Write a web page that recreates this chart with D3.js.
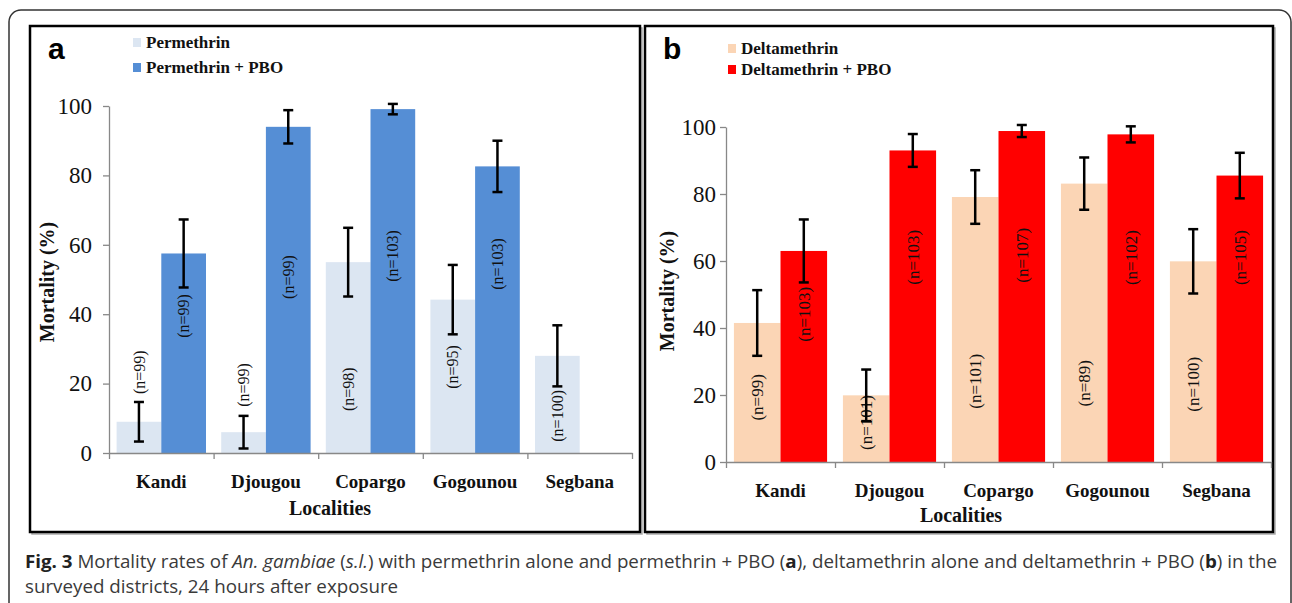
<!DOCTYPE html>
<html>
<head>
<meta charset="utf-8">
<script src="https://cdn.jsdelivr.net/npm/d3@7"></script>
<style>
  body { margin: 0; background: #fff; }
  svg { display: block; }
</style>
</head>
<body>
<script>
// values
const localities = ["Kandi", "Djougou", "Copargo", "Gogounou", "Segbana"];
const yTicks = [0, 20, 40, 60, 80, 100];

const permethrin = [9.0, 6.0, 55.0, 44.2, 28.0];
const permethrinErr = [5.7, 4.7, 9.9, 10.0, 8.8];
const permethrinN = ["(n=99)", "(n=99)", "(n=98)", "(n=95)", "(n=100)"];

const permethrinPBO = [57.5, 94.0, 99.1, 82.6, null];
const permethrinPBOErr = [9.8, 4.8, 1.5, 7.4, null];
const permethrinPBON = ["(n=99)", "(n=99)", "(n=103)", "(n=103)", null];

const deltamethrin = [41.5, 19.9, 79.1, 83.1, 59.9];
const deltamethrinErr = [9.8, 7.7, 8.0, 7.8, 9.6];
const deltamethrinN = ["(n=99)", "(n=101)", "(n=101)", "(n=89)", "(n=100)"];

const deltamethrinPBO = [63.0, 93.0, 98.8, 97.8, 85.5];
const deltamethrinPBOErr = [9.4, 4.9, 1.8, 2.4, 6.8];
const deltamethrinPBON = ["(n=103)", "(n=103)", "(n=107)", "(n=102)", "(n=105)"];

// where the (n=..) labels sit, in axis units (they were hand placed in the original)
const permLabelAt = [23.3, 19.6, 18.4, 24.8, 10.7];
const permPBOLabelAt = [39.5, 50.7, 56.8, 54.5, null];
const deltaLabelAt = [19.3, 11.8, 24.1, 23.5, 23.2];
const deltaPBOLabelAt = [44.1, 61.1, 61.7, 61.0, 61.0];

const SERIF = "'Liberation Serif', 'Times New Roman', serif";
const SANS = "'Liberation Sans', Arial, sans-serif";

const panels = [
  {
    letter: "a",
    series: [
      { name: "Permethrin", values: permethrin, err: permethrinErr, n: permethrinN, labelAt: permLabelAt, color: "#DCE6F2" },
      { name: "Permethrin + PBO", values: permethrinPBO, err: permethrinPBOErr, n: permethrinPBON, labelAt: permPBOLabelAt, color: "#558ED5" }
    ],
    frame: { x0: 30, y0: 26, x1: 640, y1: 532 },
    plot: { x0: 109, x1: 632, bottom: 453, top: 106 },
    letterAt: [48, 59],
    legend: { x: 133, y: [48, 73] },
    tickPad: 11, catY: 488, locX: 330, locY: 515, titleX: 54, titleY: 282, nSize: 16
  },
  {
    letter: "b",
    series: [
      { name: "Deltamethrin", values: deltamethrin, err: deltamethrinErr, n: deltamethrinN, labelAt: deltaLabelAt, color: "#FBD5B5" },
      { name: "Deltamethrin + PBO", values: deltamethrinPBO, err: deltamethrinPBOErr, n: deltamethrinPBON, labelAt: deltaPBOLabelAt, color: "#FF0000" }
    ],
    frame: { x0: 645, y0: 26, x1: 1273, y1: 532 },
    plot: { x0: 726, x1: 1271, bottom: 462, top: 127 },
    letterAt: [663, 59],
    legend: { x: 728, y: [54, 75] },
    tickPad: 4, catY: 497, locX: 961, locY: 522, titleX: 674, titleY: 291, nSize: 17
  }
];

const svg = d3.select("body").append("svg")
  .attr("width", 1292)
  .attr("height", 603);

// outer rounded box (runs off the bottom of the picture)
svg.append("rect")
  .attr("x", 9).attr("y", 10)
  .attr("width", 1282).attr("height", 700)
  .attr("rx", 12)
  .attr("fill", "none")
  .attr("stroke", "#333")
  .attr("stroke-width", 1.5);

panels.forEach(drawPanel);

function drawPanel(p) {
  const g = svg.append("g");
  const f = p.frame;

  // frame with a faint shadow
  g.append("rect")
    .attr("x", f.x0 + 2).attr("y", f.y0 + 2)
    .attr("width", f.x1 - f.x0).attr("height", f.y1 - f.y0)
    .attr("fill", "none").attr("stroke", "#aaa").attr("stroke-width", 1.5);
  g.append("rect")
    .attr("x", f.x0).attr("y", f.y0)
    .attr("width", f.x1 - f.x0).attr("height", f.y1 - f.y0)
    .attr("fill", "#fff").attr("stroke", "#000").attr("stroke-width", 2.5);

  const x = d3.scaleBand().domain(localities).range([p.plot.x0, p.plot.x1]);
  const xs = d3.scaleBand().domain([0, 1]).range([0, x.bandwidth()]).paddingOuter(0.17);
  const y = d3.scaleLinear().domain([0, 100]).range([p.plot.bottom, p.plot.top]);

  // bars
  p.series.forEach((s, si) => {
    g.selectAll(null)
      .data(localities.map((c, i) => ({ c, v: s.values[i] })).filter(d => d.v != null))
      .join("rect")
      .attr("x", d => x(d.c) + xs(si))
      .attr("y", d => y(d.v))
      .attr("width", xs.bandwidth())
      .attr("height", d => y(0) - y(d.v))
      .attr("fill", s.color);
  });

  // n labels
  p.series.forEach((s, si) => {
    localities.forEach((c, i) => {
      if (s.n[i] == null) return;
      const cx = x(c) + xs(si) + xs.bandwidth() / 2;
      g.append("text")
        .attr("transform", `translate(${cx},${y(s.labelAt[i])}) rotate(-90)`)
        .attr("text-anchor", "middle")
        .attr("dy", "0.35em")
        .attr("font-family", SERIF)
        .attr("font-size", p.nSize)
        .attr("fill", "#111")
        .text(s.n[i]);
    });
  });

  // error bars
  p.series.forEach((s, si) => {
    localities.forEach((c, i) => {
      if (s.values[i] == null) return;
      const cx = x(c) + xs(si) + xs.bandwidth() / 2;
      const lo = y(s.values[i] - s.err[i]);
      const hi = y(s.values[i] + s.err[i]);
      const eb = g.append("g").attr("stroke", "#000").attr("stroke-width", 2.5);
      eb.append("line").attr("x1", cx).attr("x2", cx).attr("y1", lo).attr("y2", hi);
      eb.append("line").attr("x1", cx - 5).attr("x2", cx + 5).attr("y1", lo).attr("y2", lo);
      eb.append("line").attr("x1", cx - 5).attr("x2", cx + 5).attr("y1", hi).attr("y2", hi);
    });
  });

  // y axis
  const yAxis = g.append("g")
    .attr("transform", `translate(${p.plot.x0},0)`)
    .call(d3.axisLeft(y).tickValues(yTicks).tickSize(6).tickSizeOuter(0).tickPadding(p.tickPad));
  yAxis.selectAll("path, line").attr("stroke", "#888").attr("stroke-width", 1.3);
  yAxis.selectAll("text")
    .attr("font-family", SERIF).attr("font-size", 23).attr("fill", "#111");

  // x axis: ticks between categories, labels under centres
  const xb = d3.scaleLinear().domain([0, localities.length]).range([p.plot.x0, p.plot.x1]);
  const xAxis = g.append("g")
    .attr("transform", `translate(0,${p.plot.bottom})`)
    .call(d3.axisBottom(xb).tickValues(d3.range(localities.length + 1)).tickSize(6).tickSizeOuter(0).tickFormat(""));
  xAxis.selectAll("path, line").attr("stroke", "#888").attr("stroke-width", 1.3);

  g.selectAll(null)
    .data(localities)
    .join("text")
    .attr("x", d => x(d) + x.bandwidth() / 2)
    .attr("y", p.catY)
    .attr("text-anchor", "middle")
    .attr("font-family", SERIF).attr("font-weight", "bold").attr("font-size", 19)
    .attr("fill", "#111")
    .text(d => d);

  g.append("text")
    .attr("x", p.locX).attr("y", p.locY)
    .attr("text-anchor", "middle")
    .attr("font-family", SERIF).attr("font-weight", "bold").attr("font-size", 20)
    .attr("fill", "#111")
    .text("Localities");

  g.append("text")
    .attr("transform", `translate(${p.titleX},${p.titleY}) rotate(-90)`)
    .attr("text-anchor", "middle")
    .attr("font-family", SERIF).attr("font-weight", "bold").attr("font-size", 20)
    .attr("fill", "#111")
    .text("Mortality (%)");

  // panel letter
  g.append("text")
    .attr("x", p.letterAt[0]).attr("y", p.letterAt[1])
    .attr("font-family", SANS).attr("font-weight", "bold").attr("font-size", 30)
    .attr("fill", "#000")
    .text(p.letter);

  // legend
  p.series.forEach((s, si) => {
    const ly = p.legend.y[si];
    g.append("rect")
      .attr("x", p.legend.x).attr("y", ly - 10)
      .attr("width", 8).attr("height", 9)
      .attr("fill", s.color);
    g.append("text")
      .attr("x", p.legend.x + 13).attr("y", ly)
      .attr("font-family", SERIF).attr("font-weight", "bold").attr("font-size", 17)
      .attr("fill", "#111")
      .text(s.name);
  });
}

// caption
const cap = svg.append("g")
  .attr("font-family", "'Open Sans', 'Noto Sans', sans-serif")
  .attr("font-size", 18)
  .attr("fill", "#3a3a3a");

const line1 = cap.append("text").attr("x", 25).attr("y", 568);
line1.append("tspan").attr("font-weight", "bold").attr("fill", "#222").text("Fig. 3");
line1.append("tspan").text(" Mortality rates of ");
line1.append("tspan").attr("font-style", "italic").text("An. gambiae");
line1.append("tspan").text(" (");
line1.append("tspan").attr("font-style", "italic").text("s.l.");
line1.append("tspan").text(") with permethrin alone and permethrin + PBO (");
line1.append("tspan").attr("font-weight", "bold").attr("fill", "#222").text("a");
line1.append("tspan").text("), deltamethrin alone and deltamethrin + PBO (");
line1.append("tspan").attr("font-weight", "bold").attr("fill", "#222").text("b");
line1.append("tspan").text(") in the");

const line2 = cap.append("text").attr("x", 25).attr("y", 593)
  .text("surveyed districts, 24 hours after exposure");

// squeeze the caption to the width of the original's narrow face
const w1 = line1.node().getComputedTextLength();
const k = 1252 / w1;
line1.attr("textLength", 1252).attr("lengthAdjust", "spacingAndGlyphs");
line2.attr("textLength", line2.node().getComputedTextLength() * k).attr("lengthAdjust", "spacingAndGlyphs");
</script>
</body>
</html>
